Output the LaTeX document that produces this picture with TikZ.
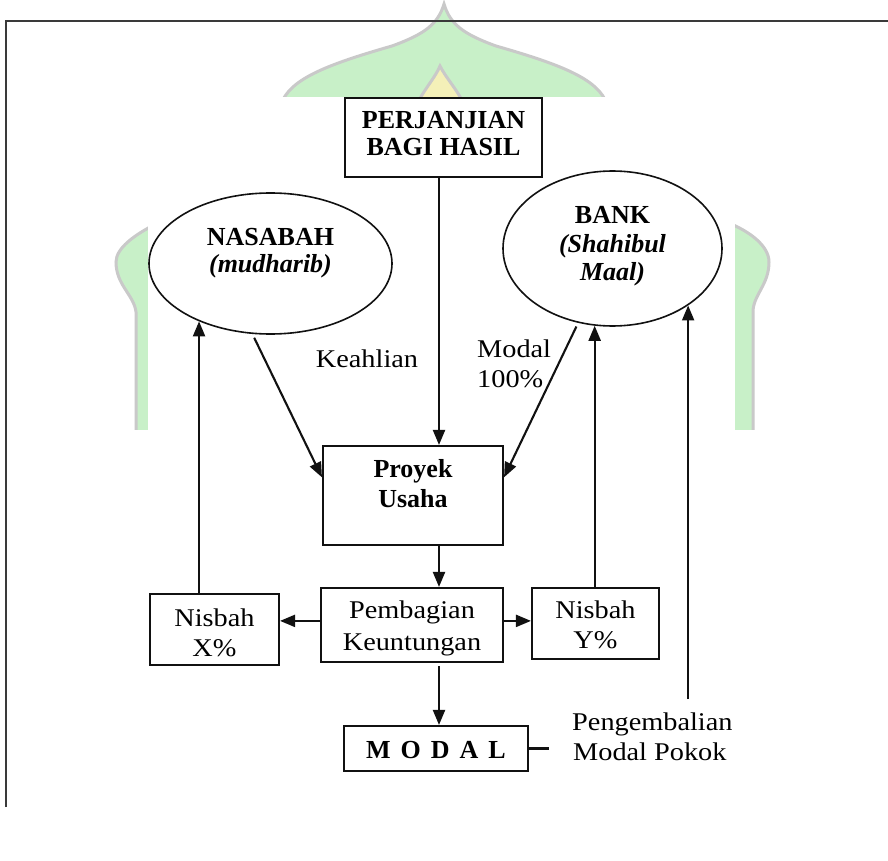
\documentclass[tikz,border=0pt]{standalone}
\usepackage{fontspec}
\setmainfont{Liberation Serif}
\newfontfamily\wide{Liberation Serif}[FakeStretch=1.11]
\usetikzlibrary{shapes.geometric,arrows.meta,calc}
\definecolor{wmgreen}{HTML}{C8F0C8}
\definecolor{wmgray}{HTML}{C9C9C9}
\definecolor{wmyellow}{HTML}{F4F0B8}
\definecolor{framecol}{HTML}{3A3A3A}
\definecolor{linecol}{HTML}{111111}
\begin{document}
\begin{tikzpicture}[x=1pt,y=-1pt,
  box/.style={draw=linecol, line width=2.1pt, inner sep=0pt},
  oval/.style={ellipse, draw=linecol, line width=1.6pt, inner sep=0pt},
  arr/.style={draw=linecol, line width=2.1pt, -{Triangle[length=15pt,width=12pt]}},
  plain/.style={draw=linecol, line width=2.1pt},
  bt/.style={anchor=base, inner sep=0pt, font=\fontsize{26}{30}\selectfont\bfseries},
  bit/.style={anchor=base, inner sep=0pt, font=\fontsize{26}{30}\selectfont\bfseries\itshape},
  rt/.style={anchor=base, inner sep=0pt, font=\fontsize{25.5}{30}\selectfont\wide},
  wm/.style={fill=wmgreen, draw=wmgray, line width=3pt},
]
\useasboundingbox (0,0) rectangle (888,861);
\fill[white] (0,0) rectangle (888,861);

% watermark
\path[wm] (444,4) .. controls (438,24) and (425,34) .. (392,46)
  .. controls (322,66) and (290,80) .. (281,104) -- (607,104)
  .. controls (598,80) and (566,66) .. (496,46)
  .. controls (463,34) and (450,24) .. (444,4) -- cycle;
\path[fill=wmyellow, draw=wmgray, line width=3pt] (417,104) .. controls (425,88) and (435,78) .. (440,66)
  .. controls (446,78) and (456,88) .. (464,104) -- cycle;
\path[wm] (152,226) .. controls (135,235) and (116,248) .. (116,262)
  .. controls (116,285) and (134,295) .. (136,312) -- (136,432) -- (152,432) -- cycle;
\path[wm] (731,224) .. controls (750,232) and (769,246) .. (769,262)
  .. controls (769,285) and (753,295) .. (753,312) -- (753,432) -- (731,432) -- cycle;
\fill[white] (148,97) rectangle (735,430);
\fill[white] (0,430) rectangle (888,861);

% frame
\draw[framecol, line width=1.6pt] (6,807) -- (6,21) -- (888,21);

% nodes
\node[box, minimum width=197, minimum height=79] (perj) at (443.5,137.5) {};
\node[bt] (perj1) at (443.5,129) {PERJANJIAN};
\node[bt] (perj2) at (443.5,156) {BAGI HASIL};

\node[oval, minimum width=243, minimum height=141] (nas) at (270.5,263.5) {};
\node[bt] (nas1) at (270.5,245) {NASABAH};
\node[bit] (nas2) at (270.5,272) {(mudharib)};

\node[oval, minimum width=219, minimum height=155] (bank) at (612.5,248.5) {};
\node[bt] (bank1) at (612.5,223) {BANK};
\node[bit] (bank2) at (612.5,252) {(Shahibul};
\node[bit] (bank3) at (612.5,280) {Maal)};

\node[box, minimum width=180, minimum height=99] (proy) at (413,495.5) {};
\node[bt] (proy1) at (413,477) {Proyek};
\node[bt] (proy2) at (413,507) {Usaha};

\node[box, minimum width=182, minimum height=74] (pemb) at (412,625) {};
\node[rt] (pemb1) at (412,618) {Pembagian};
\node[rt] (pemb2) at (412,650) {Keuntungan};

\node[box, minimum width=129, minimum height=71] (nx) at (214.5,629.5) {};
\node[rt] (nx1) at (214.5,626) {Nisbah};
\node[rt] (nx2) at (214.5,656) {X\%};

\node[box, minimum width=127, minimum height=71] (ny) at (595.5,623.5) {};
\node[rt] (ny1) at (595.5,618) {Nisbah};
\node[rt] (ny2) at (595.5,648) {Y\%};

\node[box, minimum width=184, minimum height=45] (modal) at (436,748.5) {};
\node[bt] (modal1) at (436,758) {\spaceskip=10pt M O D A L};

\node[rt] (keah) at (367,367) {Keahlian};
\node[rt, anchor=base west] (mod1) at (477,357) {Modal};
\node[rt, anchor=base west] (mod2) at (477,387) {100\%};
\node[rt, anchor=base west] (peng1) at (572,730) {Pengembalian};
\node[rt, anchor=base west] (peng2) at (573,760) {Modal Pokok};

% connectors
\coordinate (cx) at (439,0);
\coordinate (pk) at (688,699);
\coordinate (mline) at (549,748.5);
\coordinate (pL) at ($(pemb.north west)!0.446!(pemb.south west)$);

\draw[arr] (perj.south -| cx) -- (proy.north -| cx);
\draw[arr] ([yshift=-3.6pt]nas.257.5) -- ($(proy.north west)!0.32!(proy.south west)$);
\draw[arr] ([yshift=-4pt]bank.244.9) -- ($(proy.north east)!0.32!(proy.south east)$);
\draw[arr] (nas.219.75 |- nx.north) -- (nas.219.75);
\draw[arr] (bank.257.1 |- ny.north) -- (bank.257.1);
\draw[arr] (bank.323.4 |- pk) -- (bank.323.4);
\draw[arr] (proy.south -| cx) -- (pemb.north -| cx);
\draw[arr] (pL) -- (nx.east |- pL);
\draw[arr] (pemb.east |- pL) -- (ny.west |- pL);
\draw[arr] ([yshift=-3pt]pemb.south -| cx) -- (modal.north -| cx);
\draw[plain] (modal.east) -- (mline);
\end{tikzpicture}
\end{document}
